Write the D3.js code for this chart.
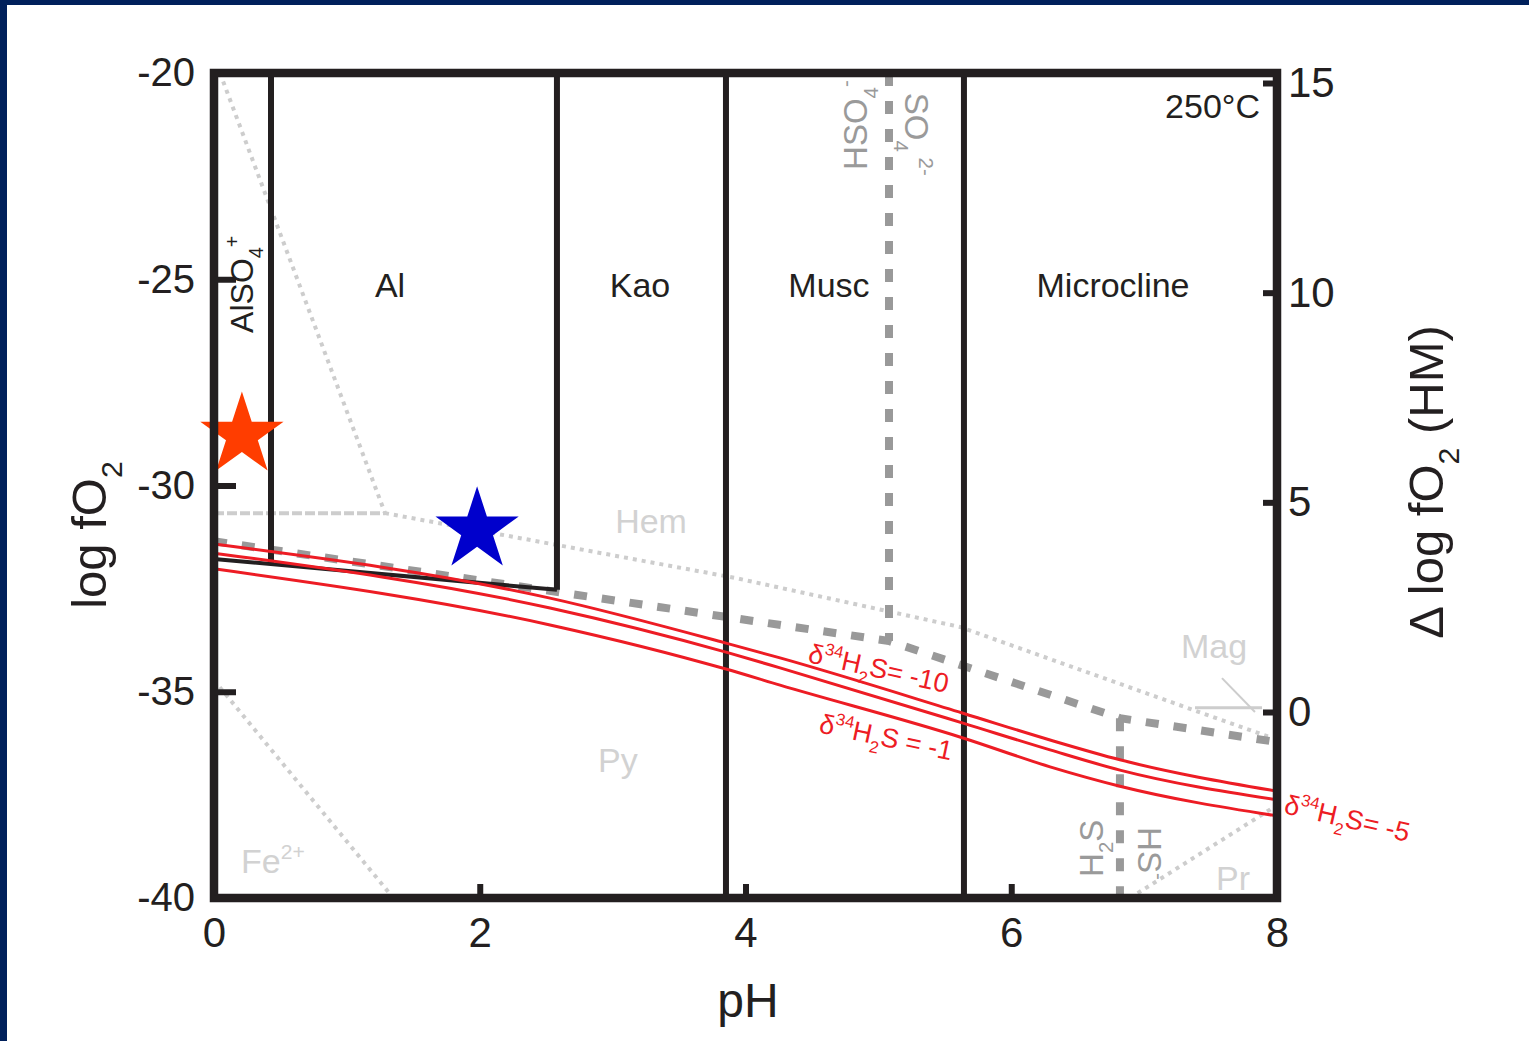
<!DOCTYPE html>
<html>
<head>
<meta charset="utf-8">
<script src="https://cdn.jsdelivr.net/npm/d3@7"></script>
<style>
body { margin: 0; background: #fff; }
text { font-family: "Liberation Sans", Arial, sans-serif; }
</style>
</head>
<body>
<svg id="chart" width="1529" height="1041"></svg>
<script>
// ticks
var xTicks = [0, 2, 4, 6, 8];
var yTicks = [-40, -35, -30, -25, -20];
var y2Ticks = [0, 5, 10, 15];

// black mineral field boundaries [pH, log fO2]
var fieldLines = [
    [[0.429, -20], [0.429, -31.9]],
    [[2.581, -20], [2.581, -32.53]],
    [[3.853, -20], [3.853, -40]],
    [[5.644, -20], [5.644, -40]]
];
var fieldBase = [[0, -31.78], [2.581, -32.53]];

// iron phase boundaries (light dotted)
var ironLines = [
    [[0.045, -20], [1.287, -30.67]],
    [[1.287, -30.67], [3.921, -32.24], [5.614, -33.43], [7.962, -36.12]],
    [[0, -34.72], [1.35, -40]],
    [[6.894, -40], [8, -37.75]]
];
var hemLeft = [[0, -30.67], [1.287, -30.67]];
var hemMag = [[7.383, -35.39], [7.887, -35.39]];
var magLeader = [[7.586, -34.67], [7.834, -35.49]];

// sulfur species boundaries (thick dashed)
var sulfurLines = [
    [[0, -31.35], [5.08, -33.77], [6.818, -35.64], [8, -36.22]],
    [[5.08, -20], [5.08, -33.77]],
    [[6.818, -35.64], [6.818, -40]]
];

// d34S H2S contours
var redPH = [0, 2.529, 3.853, 4.26, 5.637, 6.292, 6.818, 8];
var d34m10 = [-31.42, -32.73, -33.82, -34.18, -35.52, -36.17, -36.65, -37.41];
var d34m5 = [-31.64, -32.97, -34.04, -34.42, -35.76, -36.41, -36.9, -37.62];
var d34m1 = [-32.02, -33.38, -34.45, -34.84, -36.12, -36.82, -37.29, -38.01];

// samples
var starPH = [0.21, 1.98];
var starFO2 = [-28.78, -31.08];
var starColor = ['#ff3d00', '#0000cc'];

// field names
var fieldNames = ['Al', 'Kao', 'Musc', 'Microcline'];
var fieldNamePH = [1.325, 3.206, 4.628, 6.766];

var svg = d3.select('#chart');
var black = '#231f20';

// page border
svg.append('rect').attr('x', 0).attr('y', 0).attr('width', 1529).attr('height', 5).attr('fill', '#00205b');
svg.append('rect').attr('x', 0).attr('y', 0).attr('width', 7).attr('height', 1041).attr('fill', '#00205b');

var x = d3.scaleLinear().domain([0, 8]).range([214, 1277]);
var y = d3.scaleLinear().domain([-40, -20]).range([898, 73]);
var y2 = d3.scaleLinear().domain([0, 15]).range([712, 83]);

var line = d3.line().x(d => x(d[0])).y(d => y(d[1]));

// iron
ironLines.forEach(function (l) {
    svg.append('path').attr('d', line(l)).attr('fill', 'none')
        .attr('stroke', '#cdcdcd').attr('stroke-width', 4).attr('stroke-dasharray', '4 5');
});
svg.append('path').attr('d', line(hemLeft)).attr('fill', 'none')
    .attr('stroke', '#cdcdcd').attr('stroke-width', 4).attr('stroke-dasharray', '10 3');
svg.append('path').attr('d', line(hemMag)).attr('fill', 'none')
    .attr('stroke', '#cdcdcd').attr('stroke-width', 3);
svg.append('path').attr('d', line(magLeader)).attr('fill', 'none')
    .attr('stroke', '#cdcdcd').attr('stroke-width', 2);

// sulfur
sulfurLines.forEach(function (l) {
    svg.append('path').attr('d', line(l)).attr('fill', 'none')
        .attr('stroke', '#999').attr('stroke-width', 8).attr('stroke-dasharray', '13 15');
});

// fields
fieldLines.forEach(function (l) {
    svg.append('path').attr('d', line(l)).attr('fill', 'none')
        .attr('stroke', black).attr('stroke-width', 6);
});
svg.append('path').attr('d', line(fieldBase)).attr('fill', 'none')
    .attr('stroke', black).attr('stroke-width', 4);

// red contours
var redLine = d3.line().curve(d3.curveMonotoneX).x((d, i) => x(redPH[i])).y(d => y(d));
[d34m10, d34m5, d34m1].forEach(function (s) {
    svg.append('path').attr('d', redLine(s)).attr('fill', 'none')
        .attr('stroke', '#ed1c24').attr('stroke-width', 3);
});

// rich text helper: parts [text, 'sub'|'sup'|undefined]
function rich(g, parts, size, color) {
    var t = g.append('text').attr('font-size', size).attr('fill', color);
    var shift = 0;
    parts.forEach(function (p) {
        var s = p[1] === 'sub' ? 0.32 : p[1] === 'sup' ? -0.42 : 0;
        t.append('tspan').text(p[0])
            .attr('font-size', p[1] ? size * 0.62 : size)
            .attr('dy', (s - shift) * size);
        shift = s;
    });
    return t;
}
function place(px, py, rot) {
    return svg.append('g').attr('transform', 'translate(' + px + ',' + py + ') rotate(' + rot + ')');
}

// field labels
fieldNames.forEach(function (n, i) {
    svg.append('text').attr('x', x(fieldNamePH[i])).attr('y', y(-25.43))
        .attr('text-anchor', 'middle').attr('font-size', 34).attr('fill', black).text(n);
});
rich(place(x(0.293), y(-26.3), -90), [['AlSO'], ['4', 'sub'], ['+', 'sup']], 32, black);
svg.append('text').attr('x', x(7.872)).attr('y', y(-21.09)).attr('text-anchor', 'end')
    .attr('font-size', 34).attr('fill', black).text('250°C');

// iron labels
var light = '#d2d2d2';
[['Hem', 3.289, -31.15], ['Py', 3.04, -36.95], ['Mag', 7.526, -34.18], ['Pr', 7.669, -39.81]].forEach(function (d) {
    svg.append('text').attr('x', x(d[1])).attr('y', y(d[2])).attr('text-anchor', 'middle')
        .attr('font-size', 34).attr('fill', light).text(d[0]);
});
rich(place(x(0.203), y(-39.39), 0), [['Fe'], ['2+', 'sup']], 34, light);

// sulfur labels
var mid = '#9a9a9a';
rich(place(x(4.914), y(-22.35), -90), [['HSO'], ['4', 'sub'], ['-', 'sup']], 33, mid);
rich(place(x(5.2), y(-20.48), 90), [['SO'], ['4', 'sub'], [' 2-', 'sup']], 33, mid);
rich(place(x(6.69), y(-39.49), -90), [['H'], ['2', 'sub'], ['S']], 33, mid);
rich(place(x(6.952), y(-38.28), 90), [['HS'], ['-', 'sup']], 33, mid);

// d34S labels
var red = '#ed1c24';
rich(place(x(4.463), y(-34.28), 12.5), [['δ'], ['34', 'sup'], ['H'], ['2', 'sub'], ['S= -10']], 27, red);
rich(place(x(4.546), y(-35.98), 12), [['δ'], ['34', 'sup'], ['H'], ['2', 'sub'], ['S = -1']], 27, red);
rich(place(x(8.045), y(-37.94), 13), [['δ'], ['34', 'sup'], ['H'], ['2', 'sub'], ['S= -5']], 27, red);

// stars
var star = d3.symbol().type(d3.symbolStar).size(2150);
starPH.forEach(function (p, i) {
    svg.append('path').attr('d', star())
        .attr('transform', 'translate(' + x(p) + ',' + y(starFO2[i]) + ')')
        .attr('fill', starColor[i]);
});

// frame
svg.append('rect').attr('x', x(0)).attr('y', y(-20))
    .attr('width', x(8) - x(0)).attr('height', y(-40) - y(-20))
    .attr('fill', 'none').attr('stroke', black).attr('stroke-width', 8.5);

// axes
function styleAxis(g, size) {
    g.select('.domain').remove();
    g.selectAll('.tick line').attr('stroke', black).attr('stroke-width', 6);
    g.selectAll('.tick text').attr('fill', black).attr('font-size', size)
        .attr('font-family', '"Liberation Sans", Arial, sans-serif');
}
var plain = d => String(d);
svg.append('g').attr('transform', 'translate(0,' + y(-40) + ')')
    .call(d3.axisBottom(x).tickValues(xTicks).tickFormat(plain).tickSizeInner(-14).tickSizeOuter(0).tickPadding(19))
    .call(g => styleAxis(g, 42));
svg.append('g').attr('transform', 'translate(' + x(0) + ',0)')
    .call(d3.axisLeft(y).tickValues(yTicks).tickFormat(plain).tickSizeInner(-22).tickSizeOuter(0).tickPadding(19))
    .call(g => styleAxis(g, 40));
svg.append('g').attr('transform', 'translate(' + x(8) + ',0)')
    .call(d3.axisRight(y2).tickValues(y2Ticks).tickFormat(plain).tickSizeInner(-14).tickSizeOuter(0).tickPadding(11))
    .call(g => styleAxis(g, 42));

// axis titles
svg.append('text').attr('x', 748).attr('y', 1017).attr('text-anchor', 'middle')
    .attr('font-size', 48).attr('fill', black).text('pH');
var lt = rich(place(106, 535, -90), [['log fO'], ['2', 'sub']], 49, black);
lt.attr('text-anchor', 'middle');
var rt = rich(place(1443, 482, -90), [['Δ log fO'], ['2', 'sub'], [' (HM)']], 49, black);
rt.attr('text-anchor', 'middle');
</script>
</body>
</html>
